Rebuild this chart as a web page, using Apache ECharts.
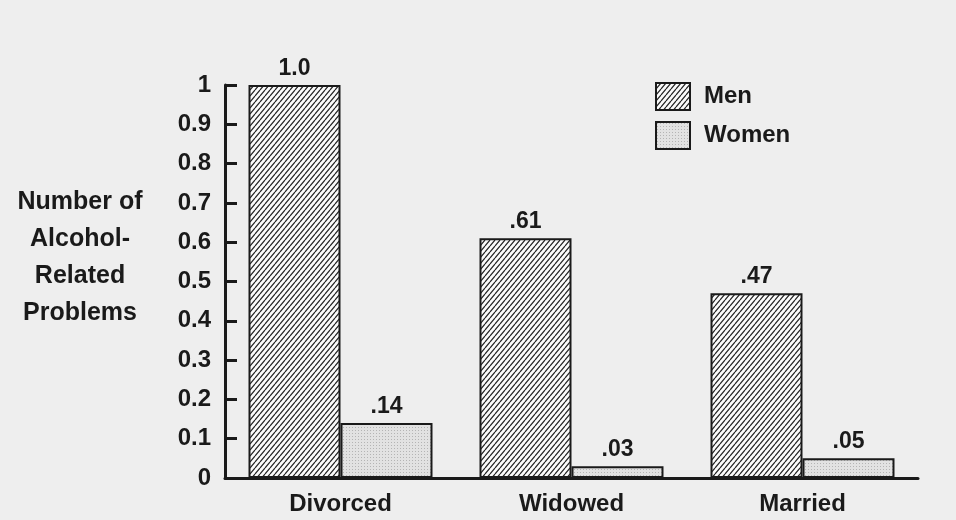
<!DOCTYPE html>
<html>
<head>
<meta charset="utf-8">
<script src="https://cdn.jsdelivr.net/npm/echarts@6/dist/echarts.min.js"></script>
<style>html,body{margin:0;padding:0;background:#eeeeee;}#c{width:956px;height:520px;}</style>
</head>
<body>
<div id="c"></div>
<script>
var categories = ['Divorced', 'Widowed', 'Married'];
var menValues = [1.0, 0.61, 0.47];
var womenValues = [0.14, 0.03, 0.05];
var yAxisTitle = 'Number of\nAlcohol-\nRelated\nProblems';

function hatchPattern() {
  var w = 5, h = 6;
  var c = document.createElement('canvas');
  c.width = w; c.height = h;
  var ctx = c.getContext('2d');
  ctx.fillStyle = '#fbfbfb';
  ctx.fillRect(0, 0, w, h);
  ctx.strokeStyle = '#222';
  ctx.lineWidth = 1.2;
  ctx.beginPath();
  for (var i = -1; i <= 1; i++) {
    ctx.moveTo(i * w, h);
    ctx.lineTo(i * w + w, 0);
  }
  ctx.stroke();
  return c;
}
function dotPattern() {
  var c = document.createElement('canvas');
  c.width = 3; c.height = 3;
  var ctx = c.getContext('2d');
  ctx.fillStyle = '#e2e2e2';
  ctx.fillRect(0, 0, 3, 3);
  ctx.fillStyle = '#b4b4b4';
  ctx.fillRect(1, 1, 1, 1);
  return c;
}

function fmt(p) {
  var v = p.value;
  if (v === 1) return '1.0';
  return v.toFixed(2).replace(/^0/, '');
}

var font = 'Liberation Sans';
var ink = '#1a1a1a';
var chart = echarts.init(document.getElementById('c'));
chart.setOption({
  backgroundColor: '#eeeeee',
  animation: false,
  title: {
    text: yAxisTitle,
    left: 75,
    top: 179,
    textAlign: 'center',
    textStyle: { fontFamily: font, fontWeight: 'bold', fontSize: 25, lineHeight: 37, color: ink, align: 'center' }
  },
  legend: {
    orient: 'vertical',
    left: 655,
    top: 82,
    padding: 0,
    icon: 'rect',
    itemWidth: 34,
    itemHeight: 27,
    itemGap: 10,
    textStyle: { fontFamily: font, fontWeight: 'bold', fontSize: 24, color: ink, padding: [0, 0, 0, 9] },
    data: ['Men', 'Women']
  },
  grid: { left: 225, right: 38, top: 85, bottom: 42 },
  xAxis: {
    type: 'category',
    data: categories,
    axisLine: { lineStyle: { color: ink, width: 3 } },
    axisTick: { inside: true, length: 6, lineStyle: { color: ink, width: 2 } },
    axisLabel: { fontFamily: font, fontWeight: 'bold', fontSize: 24, color: ink, margin: 14 }
  },
  yAxis: {
    type: 'value',
    min: 0, max: 1, interval: 0.1,
    splitLine: { show: false },
    axisLine: { show: true, lineStyle: { color: ink, width: 3 } },
    axisTick: { show: true, inside: true, length: 12, lineStyle: { color: ink, width: 3 } },
    axisLabel: { fontFamily: font, fontWeight: 'bold', fontSize: 24, color: ink, margin: 14 }
  },
  series: [
    {
      name: 'Men', type: 'bar', data: menValues, barWidth: 92, barGap: '0%',
      itemStyle: { color: { image: hatchPattern(), repeat: 'repeat' }, borderColor: ink, borderWidth: 2 },
      label: { show: true, position: 'top', distance: 5, formatter: fmt, fontFamily: font, fontWeight: 'bold', fontSize: 23, color: ink }
    },
    {
      name: 'Women', type: 'bar', data: womenValues, barWidth: 92,
      itemStyle: { color: { image: dotPattern(), repeat: 'repeat' }, borderColor: ink, borderWidth: 2 },
      label: { show: true, position: 'top', distance: 5, formatter: fmt, fontFamily: font, fontWeight: 'bold', fontSize: 23, color: ink }
    }
  ]
});
</script>
</body>
</html>
